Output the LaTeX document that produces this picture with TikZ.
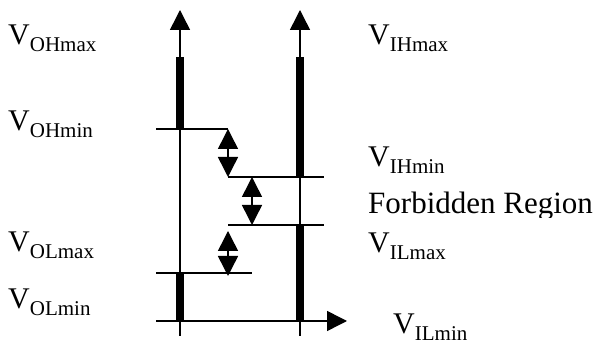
\documentclass[tikz,border=0pt]{standalone}
\usepackage{fontspec}
\setmainfont{Liberation Serif}
\usetikzlibrary{arrows.meta}
% voltage label: large V with a lowered subscript
\newcommand\voltlabel[1]{\fontsize{30}{30}\selectfont V\raisebox{-7pt}{\fontsize{21}{21}\selectfont #1}}
\begin{document}
\begin{tikzpicture}[x=1pt,y=-1pt,
  axis/.style={line width=1.5pt,-{Triangle[width=20pt,length=20pt]}},
  plain/.style={line width=1.5pt},
  bar/.style={line width=8pt,line cap=butt},
  gap/.style={line width=1.5pt,{Triangle[width=20pt,length=20pt]}-{Triangle[width=20pt,length=20pt]}},
  lbl/.style={inner sep=0pt,anchor=base west}]
\useasboundingbox (0,0) rectangle (600,344);

% axis end points
\coordinate (outBot) at (180,336);
\coordinate (outTop) at (180,10);
\coordinate (inBot)  at (300,336);
\coordinate (inTop)  at (300,10);
\coordinate (hStart) at (156,321);
\coordinate (hEnd)   at (347,321);

% output and input axes
\draw[axis] (outBot) -- (outTop);
\draw[axis] (inBot) -- (inTop);
\draw[axis] (hStart) -- (hEnd);

% valid output ranges (left) and input ranges (right)
\coordinate (ohTop) at (180,57);  \coordinate (ohBot) at (180,129);
\coordinate (olTop) at (180,273); \coordinate (olBot) at (180,321);
\coordinate (ihTop) at (300,57);  \coordinate (ihBot) at (300,177);
\coordinate (ilTop) at (300,225); \coordinate (ilBot) at (300,321);
\draw[bar] (ohTop) -- (ohBot);
\draw[bar] (olTop) -- (olBot);
\draw[bar] (ihTop) -- (ihBot);
\draw[bar] (ilTop) -- (ilBot);

% threshold levels
\coordinate (ohminL) at (156,129); \coordinate (ohminR) at (228,129);
\coordinate (ihminL) at (228,177); \coordinate (ihminR) at (324,177);
\coordinate (ilmaxL) at (228,225); \coordinate (ilmaxR) at (324,225);
\coordinate (olmaxL) at (156,273); \coordinate (olmaxR) at (252,273);
\draw[plain] (ohminL) -- (ohminR);
\draw[plain] (ihminL) -- (ihminR);
\draw[plain] (ilmaxL) -- (ilmaxR);
\draw[plain] (olmaxL) -- (olmaxR);

% noise margins and forbidden region
\coordinate (nmhTop) at (228,129); \coordinate (nmhBot) at (228,177);
\coordinate (fbTop)  at (252,177); \coordinate (fbBot)  at (252,225);
\coordinate (nmlTop) at (228,231); \coordinate (nmlBot) at (228,276);
\draw[gap] (nmhTop) -- (nmhBot);
\draw[gap] (fbTop) -- (fbBot);
\draw[gap] (nmlTop) -- (nmlBot);

% labels
\node[lbl] (vohmax) at (8,45)   {\voltlabel{OHmax}};
\node[lbl] (vohmin) at (8,131)  {\voltlabel{OHmin}};
\node[lbl] (volmax) at (8,252)  {\voltlabel{OLmax}};
\node[lbl] (volmin) at (8,309)  {\voltlabel{OLmin}};
\node[lbl] (vihmax) at (368,45) {\voltlabel{IHmax}};
\node[lbl] (vihmin) at (368,167) {\voltlabel{IHmin}};
\node[lbl] (vilmax) at (368,253) {\voltlabel{ILmax}};
\node[lbl] (vilmin) at (393,334) {\voltlabel{ILmin}};
% the caption's box cuts off the descenders
\begin{scope}
  \clip (360,185) rectangle (600,218);
  \node[lbl] (forbid) at (368,214) {\fontsize{31}{31}\selectfont Forbidden Region};
\end{scope}
\end{tikzpicture}
\end{document}
